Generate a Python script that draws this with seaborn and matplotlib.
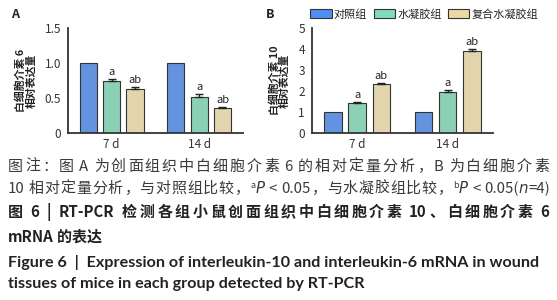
import re
import matplotlib
matplotlib.use('Agg')
import matplotlib.pyplot as plt
from matplotlib.patches import Patch
import seaborn as sns
import pandas as pd

# 数据
groups = ['对照组', '水凝胶组', '复合水凝胶组']
days = ['7 d', '14 d']
il6_mean = [[1.0, 0.74, 0.63], [1.0, 0.51, 0.35]]
il6_err = [[0.0, 0.03, 0.03], [0.0, 0.04, 0.025]]
il10_mean = [[1.0, 1.40, 2.33], [1.0, 1.97, 3.90]]
il10_err = [[0.0, 0.07, 0.05], [0.0, 0.06, 0.10]]
marks = ['', 'a', 'ab']
colors = ['#4f8ef2', '#80dcb9', '#ebd8a4']

sns.set_theme(style='white')
plt.rcParams['font.family'] = ['Noto Sans CJK SC', 'DejaVu Sans']
dark = '#333333'


def make_df(means):
    rows = []
    for d, vals in zip(days, means):
        for g, v in zip(groups, vals):
            rows.append({'day': d, 'group': g, 'value': v})
    return pd.DataFrame(rows)


def draw_panel(ax, means, errs, ylim, yticks, yticklabels, ylabel, step):
    df = make_df(means)
    sns.barplot(data=df, x='day', y='value', hue='group', palette=colors,
                gap=0.27, edgecolor=dark, linewidth=0.8, errorbar=None,
                legend=False, ax=ax)
    bar_groups = list(ax.containers)
    for gi, cont in enumerate(bar_groups):
        for di, bar in enumerate(cont):
            x = bar.get_x() + bar.get_width() / 2
            h = bar.get_height()
            e = errs[di][gi]
            if e > 0:
                ax.errorbar(x, h, yerr=[[0], [e]], fmt='none', ecolor='#222222',
                            elinewidth=1, capsize=3, capthick=1)
            if marks[gi]:
                ax.text(x, h + e + step, marks[gi], ha='center', va='bottom',
                        fontsize=8, color='#222222')
    ax.set_xlim(-0.5, 1.5)
    ax.set_ylim(*ylim)
    ax.set_yticks(yticks)
    ax.set_yticklabels(yticklabels)
    ax.set_xlabel('')
    ax.set_ylabel(ylabel, fontsize=7.8, fontweight='bold', color='#222222',
                  linespacing=1.0, labelpad=6)
    sns.despine(ax=ax)
    for s in ['left', 'bottom']:
        ax.spines[s].set_color(dark)
        ax.spines[s].set_linewidth(1.3)
    ax.tick_params(axis='both', direction='out', length=3, width=1.2,
                   color=dark, labelsize=8.5, labelcolor='#333333', pad=2)
    ax.tick_params(axis='x', length=2)


W, H = 557, 300
fig = plt.figure(figsize=(W / 100, H / 100), dpi=100)
ax_a = fig.add_axes([0.122, 0.557, 0.314, 0.35])
ax_b = fig.add_axes([0.560, 0.557, 0.325, 0.35])

draw_panel(ax_a, il6_mean, il6_err, (0, 1.5), [0, 0.5, 1.0, 1.5],
           ['0', '0.5', '1.0', '1.5'], '白细胞介素 6\n相对表达量', 0.03)
draw_panel(ax_b, il10_mean, il10_err, (0, 5), [0, 1, 2, 3, 4, 5],
           ['0', '1', '2', '3', '4', '5'], '白细胞介素 10\n相对表达量', 0.1)

fig.text(0.020, 0.953, 'A', fontsize=9, fontweight='bold', color='#222222', va='center')
fig.text(0.477, 0.953, 'B', fontsize=9, fontweight='bold', color='#222222', va='center')

handles = [Patch(facecolor=c, edgecolor=dark, linewidth=0.8, label=g)
           for c, g in zip(colors, groups)]
fig.legend(handles=handles, loc='center', bbox_to_anchor=(0.762, 0.953), ncol=3,
           frameon=False, fontsize=8, handlelength=1.9, handleheight=0.8,
           columnspacing=0.6, handletextpad=0.2, borderaxespad=0)

# 图注（两端对齐）
cap = '#3a3a3a'
cn_size = 10.8
en_size = 11.6
x0 = 8
renderer = fig.canvas.get_renderer()


def justified_line(baseline, segments, right=None, space=0.3):
    # segments: (文本, 字体参数, 上移像素, 是否紧贴前一段)
    items = []
    for txt, props, dy, attach in segments:
        toks = re.findall(r'[A-Za-z0-9.<=()\-|]+|\s|.', txt)
        for k, tok in enumerate(toks):
            glue = attach and k == 0
            if tok == ' ':
                items.append((None, props.get('fontsize', cn_size) * space, 0, glue))
                continue
            t = fig.text(0, 0, tok, ha='left', va='baseline', **props)
            w = t.get_window_extent(renderer).width
            items.append((t, w, dy, glue))
    natural = sum(w for _, w, _, _ in items)
    gaps = sum(1 for t, _, _, g in items[1:] if t is not None and not g)
    extra = 0 if right is None else (right - x0 - natural) / gaps
    x = x0
    for i, (t, w, dy, glue) in enumerate(items):
        if t is None:
            x += w
            continue
        if i > 0 and not glue:
            x += extra
        t.set_position((x / W, (H - baseline + dy) / H))
        x += w


normal = dict(fontsize=cn_size, color=cap)
italic = dict(fontsize=cn_size, color=cap, style='italic', family=['DejaVu Sans'])
sup = dict(fontsize=6.5, color=cap)
bold = dict(fontsize=cn_size, color='#222222', fontweight='bold')

justified_line(171, [('图注：图 A 为创面组织中白细胞介素 6 的相对定量分析，B 为白细胞介素', normal, 0, False)],
               right=549)
justified_line(193, [('10 相对定量分析，与对照组比较，', normal, 0, False),
                     ('a', sup, 5, False),
                     ('P', italic, 0, True),
                     (' < 0.05，与水凝胶组比较，', normal, 0, True),
                     ('b', sup, 5, False),
                     ('P', italic, 0, True),
                     (' < 0.05(', normal, 0, True),
                     ('n', italic, 0, True),
                     ('=4)', normal, 0, True)], right=550)
justified_line(217, [('图 6 | RT-PCR 检测各组小鼠创面组织中白细胞介素 10、白细胞介素 6', bold, 0, False)],
               right=549, space=0.45)
justified_line(242, [('mRNA 的表达', bold, 0, False)])

fig.text(x0 / W, 1 - 263 / H, 'Figure 6  |  Expression of interleukin-10 and interleukin-6 mRNA in wound',
         fontsize=en_size, color='#222222', fontweight='bold', va='center',
         family=['Lato', 'DejaVu Sans'])
fig.text(x0 / W, 1 - 284 / H, 'tissues of mice in each group detected by RT-PCR',
         fontsize=en_size, color='#222222', fontweight='bold', va='center',
         family=['Lato', 'DejaVu Sans'])

fig.savefig('out.png', dpi=100)
